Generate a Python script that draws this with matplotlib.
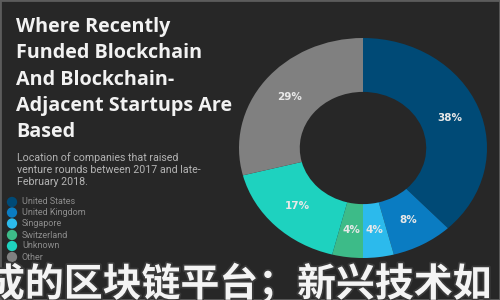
import matplotlib
matplotlib.use("Agg")
import matplotlib.pyplot as plt
from matplotlib.patches import Rectangle
import matplotlib.patheffects as pe

# ---- data ----
shares = [38, 8, 4, 4, 17, 29]
countries = ["United States", "United Kingdom", "Singapore", "Switzerland", "Unknown", "Other"]
colors = ["#004a76", "#0a7cc2", "#2cbaec", "#3dbb88", "#1ed2bf", "#808080"]
title_lines = ["Where Recently", "Funded Blockchain", "And Blockchain-",
               "Adjacent Startups Are", "Based"]
subtitle_lines = ["Location of companies that raised",
                  "venture rounds between 2017 and late-",
                  "February 2018."]
overlay_text = "成的区块链平台；新兴技术如"

W, H = 500, 300
BG = "#272727"
fig = plt.figure(figsize=(5, 3), dpi=100)
fig.patch.set_facecolor(BG)

def fx(px):
    return px / W

def fy(py):
    return 1 - py / H

# ---- donut ----
cx, cy, rx, ry = 363, 148, 124, 110
ax = fig.add_axes([fx(cx - rx), fy(cy + ry), 2 * rx / W, 2 * ry / H])
ax.set_facecolor("none")
wedges, texts, autotexts = ax.pie(
    shares, colors=colors, startangle=90, counterclock=False,
    radius=1.0, wedgeprops=dict(width=0.49, linewidth=0),
    autopct=lambda p: f"{p:.0f}%", pctdistance=0.75,
    textprops=dict(color="#e8e8e8", fontsize=7.5, fontweight="bold",
                   family="DejaVu Sans"))
ax.set_aspect("auto")
ax.set_xlim(-1, 1)
ax.set_ylim(-1, 1)
ax.axis("off")

# ---- title ----
title_baselines = [32, 58, 85, 111, 137]
for line, b in zip(title_lines, title_baselines):
    fig.text(fx(16), fy(b), line, color="#f2f2f2", fontsize=14.2,
             fontweight="bold", family="Open Sans", va="baseline", ha="left")

# ---- subtitle ----
sub_baselines = [161, 173, 185]
for line, b in zip(subtitle_lines, sub_baselines):
    fig.text(fx(17), fy(b), line, color="#b4b4b4", fontsize=7.7,
             family="Roboto", va="baseline", ha="left")

# ---- legend ----
leg_y = [202, 212.5, 223.5, 235, 246, 257]
lax = fig.add_axes([0, 0, 1, 1])
lax.set_xlim(0, W)
lax.set_ylim(H, 0)
lax.axis("off")
lax.scatter([12] * len(leg_y), leg_y, s=55, c=colors, linewidths=0)
for name, yy in zip(countries, leg_y):
    fig.text(fx(22), fy(yy), name, color="#8c8c8c", fontsize=6.5,
             family="Roboto", va="center", ha="left")

# ---- overlay text ----
fig.text(fx(-14), fy(284), overlay_text, color="#f4f4f4", fontsize=28,
         fontweight="bold", family=["Noto Sans CJK SC", "DejaVu Sans"],
         va="center", ha="left",
         path_effects=[pe.withStroke(linewidth=2.5, foreground="#3a3a3a")])

# ---- frame ----
fig.patches.append(Rectangle((0, 0), 1, 1, transform=fig.transFigure,
                             fill=False, edgecolor="#5c5c5c", linewidth=2))

fig.savefig("out.png", dpi=100, facecolor=BG)
